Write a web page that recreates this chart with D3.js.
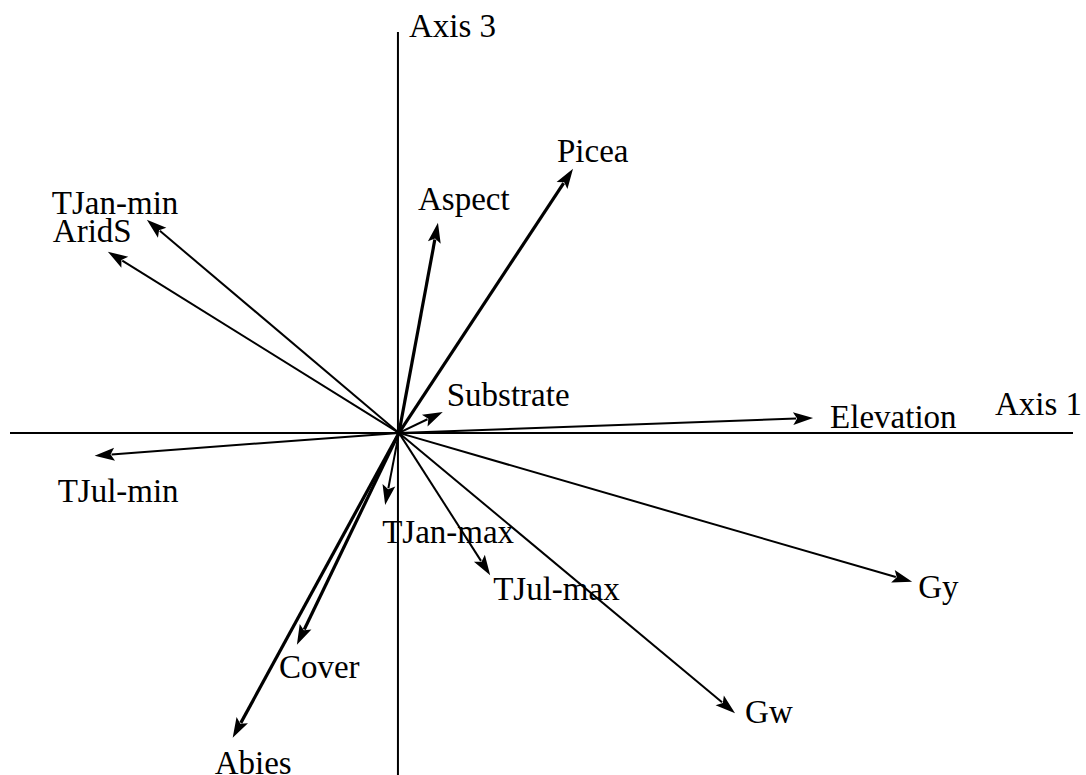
<!DOCTYPE html>
<html>
<head>
<meta charset="utf-8">
<script src="https://cdn.jsdelivr.net/npm/d3@7"></script>
<style>
  html, body { margin: 0; padding: 0; background: #fff; }
  svg text { font-family: "Liberation Serif", "Times New Roman", serif; fill: #000; }
</style>
</head>
<body>
<svg id="chart" width="1086" height="775"></svg>
<script>
// Biplot of environmental and taxon vectors on ordination axes 1 and 3
const variables = ["Picea", "Aspect", "TJan-min", "AridS", "Substrate", "Elevation",
                   "TJul-min", "TJan-max", "Cover", "Abies", "TJul-max", "Gw", "Gy"];
const axis1Scores = [0.290, 0.065, -0.420, -0.485, 0.073, 0.690,
                     -0.507, -0.023, -0.170, -0.277, 0.152, 0.560, 0.855];
const axis3Scores = [0.440, 0.350, 0.355, 0.302, 0.035, 0.025,
                     -0.038, -0.120, -0.353, -0.508, -0.237, -0.467, -0.248];
const boldVectors = ["Picea", "Aspect", "Cover", "Abies"];
const axisTitles = ["Axis 1", "Axis 3"];

// label placement relative to the arrow tip (left edge, baseline), in pixels
const labelOffsets = {
  "Picea": [-16, -7], "Aspect": [-20, -13], "TJan-min": [-95, -6], "AridS": [-55, -10],
  "Substrate": [4, -6], "Elevation": [17, 10], "TJul-min": [-37, 46], "TJan-max": [-3, 38],
  "Cover": [-18, 33], "Abies": [-18, 36], "TJul-max": [3, 25], "Gw": [10, 10], "Gy": [6, 16]
};

const fontSize = 33;
const svg = d3.select("#chart");

const x = d3.scaleLinear().domain([-0.648, 1.123]).range([10, 1073]);
const y = d3.scaleLinear().domain([-0.57, 0.668]).range([775, 32]);

const ox = x(0), oy = y(0);

// ordination axes
svg.append("line").attr("x1", x(-0.648)).attr("x2", x(1.123)).attr("y1", oy).attr("y2", oy)
  .attr("stroke", "#000").attr("stroke-width", 2);
svg.append("line").attr("x1", ox - 1).attr("x2", ox - 1).attr("y1", y(0.668)).attr("y2", y(-0.57))
  .attr("stroke", "#000").attr("stroke-width", 2);

svg.append("text").attr("x", 995).attr("y", 415).attr("font-size", fontSize).text(axisTitles[0]);
svg.append("text").attr("x", ox + 10).attr("y", 37).attr("font-size", fontSize).text(axisTitles[1]);

const data = variables.map((v, i) => ({ name: v, a1: axis1Scores[i], a3: axis3Scores[i] }));

const headLen = 20, headHalf = 6.5;
const g = svg.append("g");

data.forEach(d => {
  const tx = x(d.a1), ty = y(d.a3);
  const dx = tx - ox, dy = ty - oy;
  const len = Math.hypot(dx, dy);
  const ux = dx / len, uy = dy / len;
  const bx = tx - ux * headLen, by = ty - uy * headLen;
  const sw = boldVectors.includes(d.name) ? 3.2 : 2;

  g.append("line").attr("x1", ox).attr("y1", oy).attr("x2", bx + ux * 3).attr("y2", by + uy * 3)
    .attr("stroke", "#000").attr("stroke-width", sw);
  g.append("path")
    .attr("d", `M${tx},${ty}L${bx - uy * headHalf},${by + ux * headHalf}L${bx + ux * 4},${by + uy * 4}L${bx + uy * headHalf},${by - ux * headHalf}Z`)
    .attr("fill", "#000");

  const off = labelOffsets[d.name];
  g.append("text").attr("x", tx + off[0]).attr("y", ty + off[1]).attr("font-size", fontSize).text(d.name);
});
</script>
</body>
</html>
